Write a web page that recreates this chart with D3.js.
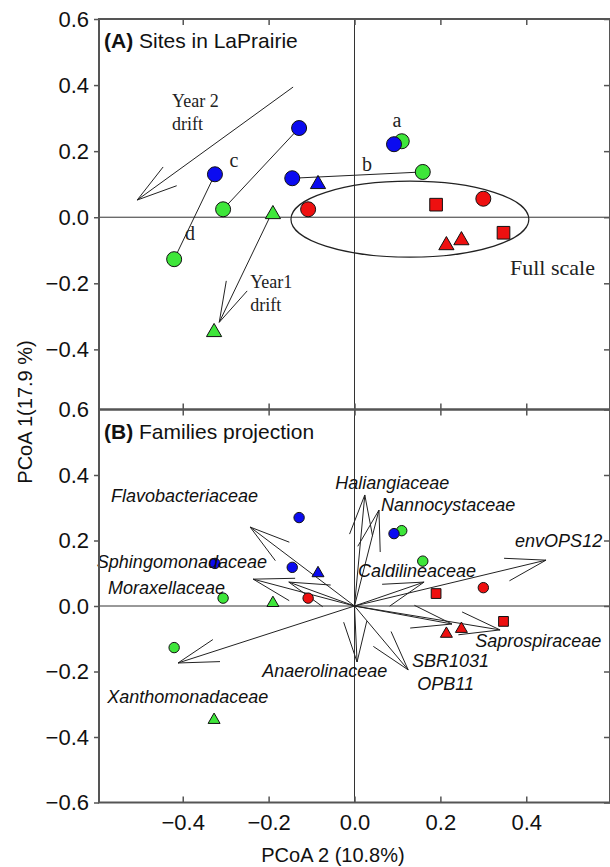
<!DOCTYPE html>
<html>
<head>
<meta charset="utf-8">
<script src="https://cdn.jsdelivr.net/npm/d3@7"></script>
<style>
body { margin: 0; background: #fff; }
</style>
</head>
<body>
<div id="chart"></div>
<script>
// site scores: PCoA 2 on x, PCoA 1 on y
var siteGroup = ["green", "green", "green", "green", "green", "green",
                 "blue", "blue", "blue", "blue", "blue",
                 "red", "red", "red", "red", "red", "red"];
var siteShape = ["circle", "circle", "triangle", "triangle", "circle", "circle",
                 "circle", "circle", "circle", "triangle", "circle",
                 "circle", "square", "circle", "square", "triangle", "triangle"];
var sitePC2 = [-0.306, -0.42, -0.19, -0.327, 0.11, 0.159,
               -0.325, -0.129, -0.145, -0.085, 0.092,
               -0.108, 0.19, 0.30, 0.347, 0.214, 0.249];
var sitePC1 = [0.024, -0.127, 0.009, -0.348, 0.23, 0.137,
               0.13, 0.27, 0.118, 0.10, 0.221,
               0.024, 0.038, 0.056, -0.047, -0.085, -0.07];

// same-site pairs joined in panel A (index into the site arrays)
var pairFrom = [8, 7, 6];
var pairTo = [5, 0, 1];
var pairLetter = ["a", "b", "c", "d"];
var letterPC2 = [0.099, 0.029, -0.281, -0.383];
var letterPC1 = [0.273, 0.139, 0.152, -0.07];

// drift arrows in panel A
var driftName = ["Year 2|drift", "Year1|drift"];
var driftFromPC2 = [-0.143, -0.19];
var driftFromPC1 = [0.394, 0.02];
var driftToPC2 = [-0.506, -0.315];
var driftToPC1 = [0.052, -0.318];
var driftLabelPC2 = [-0.425, -0.243];
var driftLabelPC1 = [0.333, -0.215];

// full-scale ellipse: centre and radii in axis units
var fullScale = {cx: 0.129, cy: -0.006, rx: 0.277, ry: 0.115};

// family vectors in panel B (tips, origin at 0,0)
var vectorPC2 = [-0.243, -0.236, -0.153, -0.411, 0.006, 0.125, 0.227, 0.339, 0.446, 0.162, 0.024, 0.057];
var vectorPC1 = [0.241, 0.082, 0.073, -0.174, -0.171, -0.195, -0.055, -0.073, 0.14, 0.073, 0.339, 0.293];

var familyName = ["Flavobacteriaceae", "Sphingomonadaceae", "Moraxellaceae", "Xanthomonadaceae",
                  "Anaerolinaceae", "SBR1031", "OPB11", "Saprospiraceae", "envOPS12",
                  "Caldilineaceae", "Haliangiaceae", "Nannocystaceae"];
var familyPC2 = [-0.567, -0.600, -0.574, -0.576, -0.215, 0.134, 0.146, 0.281, 0.374, 0.008, -0.045, 0.062];
var familyPC1 = [0.318, 0.116, 0.037, -0.296, -0.217, -0.186, -0.256, -0.125, 0.18, 0.089, 0.357, 0.29];

var xTicks = [-0.4, -0.2, 0.0, 0.2, 0.4];
var yTicksA = [0.6, 0.4, 0.2, 0.0, -0.2, -0.4];
var yTicksB = [0.6, 0.4, 0.2, 0.0, -0.2, -0.4, -0.6];

var width = 610, height = 867;
var left = 99, right = 610;
var sans = "Arial, 'Liberation Sans', sans-serif";
var serif = "'Times New Roman', 'Liberation Serif', serif";
var colors = {green: "#3ee63a", blue: "#0b0bf0", red: "#ee1010"};
var axisColor = "#555";
var fmt = d3.format(".1f");

var svg = d3.select("#chart").append("svg")
    .attr("width", width)
    .attr("height", height);

var x = d3.scaleLinear().domain([-0.595, 0.595]).range([left, right]);
var yA = d3.scaleLinear().domain([-0.582, 0.6]).range([409.5, 19]);
var yB = d3.scaleLinear().domain([-0.6, 0.6]).range([802.5, 409.5]);

function arrow(g, x1, y1, x2, y2) {
    // shaft from (x1,y1) to tip (x2,y2) with two open barbs
    var back = Math.atan2(y1 - y2, x1 - x2);
    var len = 42, spread = 16 * Math.PI / 180;
    var p = d3.path();
    p.moveTo(x1, y1);
    p.lineTo(x2, y2);
    p.moveTo(x2 + len * Math.cos(back + spread), y2 + len * Math.sin(back + spread));
    p.lineTo(x2, y2);
    p.lineTo(x2 + len * Math.cos(back - spread), y2 + len * Math.sin(back - spread));
    g.append("path")
        .attr("d", p.toString())
        .attr("fill", "none")
        .attr("stroke", "#222")
        .attr("stroke-width", 1);
}

function markers(g, y, r, triSize, sqSize) {
    var idx = d3.range(sitePC2.length);
    idx.forEach(function (i) {
        var cx = x(sitePC2[i]), cy = y(sitePC1[i]);
        if (siteShape[i] == "circle") {
            g.append("circle")
                .attr("cx", cx).attr("cy", cy).attr("r", r)
                .attr("fill", colors[siteGroup[i]])
                .attr("stroke", "#111").attr("stroke-width", 1);
        } else {
            var sym = siteShape[i] == "triangle" ? d3.symbolTriangle : d3.symbolSquare;
            var size = siteShape[i] == "triangle" ? triSize : sqSize;
            g.append("path")
                .attr("d", d3.symbol().type(sym).size(size)())
                .attr("transform", "translate(" + cx + "," + cy + ")")
                .attr("fill", colors[siteGroup[i]])
                .attr("stroke", "#111").attr("stroke-width", 1);
        }
    });
}

function zeroLines(g, y) {
    g.append("line")
        .attr("x1", left).attr("x2", right)
        .attr("y1", y(0)).attr("y2", y(0))
        .attr("stroke", "#333").attr("stroke-width", 1);
    g.append("line")
        .attr("x1", x(0)).attr("x2", x(0))
        .attr("y1", y.range()[1]).attr("y2", y.range()[0])
        .attr("stroke", "#333").attr("stroke-width", 1);
}

// ---------- panel A ----------
var gA = svg.append("g");
zeroLines(gA, yA);

gA.append("ellipse")
    .attr("cx", x(fullScale.cx))
    .attr("cy", yA(fullScale.cy))
    .attr("rx", x(fullScale.rx) - x(0))
    .attr("ry", yA(0) - yA(fullScale.ry))
    .attr("fill", "none")
    .attr("stroke", "#222")
    .attr("stroke-width", 1.2);

pairFrom.forEach(function (a, k) {
    var b = pairTo[k];
    gA.append("line")
        .attr("x1", x(sitePC2[a])).attr("y1", yA(sitePC1[a]))
        .attr("x2", x(sitePC2[b])).attr("y2", yA(sitePC1[b]))
        .attr("stroke", "#222").attr("stroke-width", 1);
});

driftName.forEach(function (name, k) {
    arrow(gA, x(driftFromPC2[k]), yA(driftFromPC1[k]), x(driftToPC2[k]), yA(driftToPC1[k]));
    var t = gA.append("text")
        .attr("x", x(driftLabelPC2[k]))
        .attr("y", yA(driftLabelPC1[k]))
        .style("font-family", serif)
        .style("font-size", "18px")
        .style("fill", "#222");
    name.split("|").forEach(function (s, j) {
        t.append("tspan")
            .attr("x", x(driftLabelPC2[k]))
            .attr("dy", j == 0 ? 0 : 23)
            .text(s);
    });
});

markers(gA, yA, 7.5, 100, 160);

gA.selectAll(".letter")
    .data(pairLetter)
    .enter()
    .append("text")
    .attr("class", "letter")
    .attr("x", function (d, i) { return x(letterPC2[i]); })
    .attr("y", function (d, i) { return yA(letterPC1[i]); })
    .attr("text-anchor", "middle")
    .style("font-family", serif)
    .style("font-size", "20px")
    .style("fill", "#222")
    .text(function (d) { return d; });

gA.append("text")
    .attr("x", 510)
    .attr("y", yA(-0.176))
    .style("font-family", serif)
    .style("font-size", "22px")
    .style("fill", "#222")
    .text("Full scale");

var tA = gA.append("text")
    .attr("x", 104).attr("y", 48)
    .style("font-family", sans)
    .style("font-size", "21px")
    .style("fill", "#111");
tA.append("tspan").style("font-weight", "bold").text("(A)");
tA.append("tspan").text(" Sites in LaPrairie");

// ---------- panel B ----------
var gB = svg.append("g");
zeroLines(gB, yB);

vectorPC2.forEach(function (v, k) {
    arrow(gB, x(0), yB(0), x(v), yB(vectorPC1[k]));
});

markers(gB, yB, 5.2, 62, 95);

gB.selectAll(".family")
    .data(familyName)
    .enter()
    .append("text")
    .attr("class", "family")
    .attr("x", function (d, i) { return x(familyPC2[i]); })
    .attr("y", function (d, i) { return yB(familyPC1[i]); })
    .style("font-family", sans)
    .style("font-style", "italic")
    .style("font-size", "18px")
    .style("fill", "#111")
    .text(function (d) { return d; });

var tB = gB.append("text")
    .attr("x", 104).attr("y", 439)
    .style("font-family", sans)
    .style("font-size", "21px")
    .style("fill", "#111");
tB.append("tspan").style("font-weight", "bold").text("(B)");
tB.append("tspan").text(" Families projection");

// ---------- axes ----------
function styleAxis(g, labels) {
    g.select(".domain").remove();
    g.selectAll(".tick line").attr("stroke", axisColor).attr("stroke-width", 1.5);
    g.selectAll(".tick text")
        .style("font-family", sans)
        .style("font-size", "22px")
        .style("fill", "#111");
    if (!labels) g.selectAll(".tick text").remove();
}

var axA = svg.append("g").attr("transform", "translate(" + left + ",0)")
    .call(d3.axisLeft(yA).tickValues(yTicksA).tickFormat(fmt).tickSizeInner(5).tickSizeOuter(0).tickPadding(5));
styleAxis(axA, true);
var axB = svg.append("g").attr("transform", "translate(" + left + ",0)")
    .call(d3.axisLeft(yB).tickValues(yTicksB).tickFormat(fmt).tickSizeInner(5).tickSizeOuter(0).tickPadding(5));
styleAxis(axB, true);
axB.selectAll(".tick").filter(function (d) { return d == 0.6; }).select("line").remove();

var axRA = svg.append("g").attr("transform", "translate(" + right + ",0)")
    .call(d3.axisRight(yA).tickValues(yTicksA).tickSizeInner(-6).tickSizeOuter(0));
styleAxis(axRA, false);
var axRB = svg.append("g").attr("transform", "translate(" + right + ",0)")
    .call(d3.axisRight(yB).tickValues(yTicksB).tickSizeInner(-6).tickSizeOuter(0));
styleAxis(axRB, false);

var axTop = svg.append("g").attr("transform", "translate(0," + yA.range()[1] + ")")
    .call(d3.axisTop(x).tickValues(xTicks).tickSizeInner(-6).tickSizeOuter(0));
styleAxis(axTop, false);
var axMidA = svg.append("g").attr("transform", "translate(0," + yA.range()[0] + ")")
    .call(d3.axisBottom(x).tickValues(xTicks).tickSizeInner(-6).tickSizeOuter(0));
styleAxis(axMidA, false);
var axMidB = svg.append("g").attr("transform", "translate(0," + yB.range()[1] + ")")
    .call(d3.axisTop(x).tickValues(xTicks).tickSizeInner(-6).tickSizeOuter(0));
styleAxis(axMidB, false);
var axBottom = svg.append("g").attr("transform", "translate(0," + yB.range()[0] + ")")
    .call(d3.axisBottom(x).tickValues(xTicks).tickFormat(fmt).tickSizeInner(-6).tickSizeOuter(0).tickPadding(12));
styleAxis(axBottom, true);

// frames
[yA, yB].forEach(function (y) {
    svg.append("rect")
        .attr("x", left).attr("y", y.range()[1])
        .attr("width", right - left).attr("height", y.range()[0] - y.range()[1])
        .attr("fill", "none")
        .attr("stroke", axisColor)
        .attr("stroke-width", 2);
});

svg.append("text")
    .attr("transform", "translate(32,412) rotate(-90)")
    .attr("text-anchor", "middle")
    .style("font-family", sans)
    .style("font-size", "20px")
    .style("fill", "#111")
    .text("PCoA 1(17.9 %)");

svg.append("text")
    .attr("x", 333).attr("y", 862)
    .attr("text-anchor", "middle")
    .style("font-family", sans)
    .style("font-size", "20px")
    .style("fill", "#111")
    .text("PCoA 2 (10.8%)");
</script>
</body>
</html>
